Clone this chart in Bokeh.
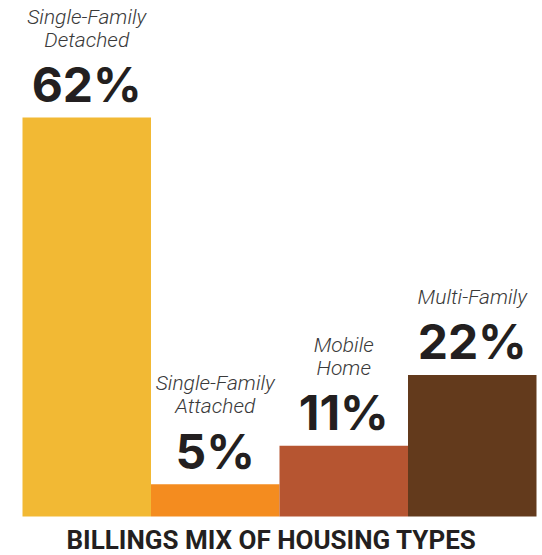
from bokeh.plotting import figure
from bokeh.models import ColumnDataSource, Range1d, Label
from bokeh.core.properties import value
from bokeh.embed import file_html
from bokeh.resources import INLINE

categories = ["Single-Family\nDetached", "Single-Family\nAttached", "Mobile\nHome", "Multi-Family"]
shares = [62, 5, 11, 22]
pct_labels = ["62%", "5%", "11%", "22%"]
colors = ["#F2B934", "#F48C1F", "#B65531", "#633A1C"]
title_text = "BILLINGS MIX OF HOUSING TYPES"

W, H = 542, 555
bar_px = 128.5
left_px, right_px = 22, 6
base_px = 39
unit_px = 6.435

xs = [i + 0.5 for i in range(len(shares))]
line1 = []
line2 = []
for c in categories:
    parts = c.split("\n")
    if len(parts) == 2:
        line1.append(parts[0]); line2.append(parts[1])
    else:
        line1.append(""); line2.append(parts[0])

src = ColumnDataSource(dict(x=xs, top=shares, color=colors, pct=pct_labels, l1=line1, l2=line2))

p = figure(width=W, height=H, output_backend="svg", toolbar_location=None,
           min_border=0, outline_line_color=None,
           x_range=Range1d(-left_px / bar_px, len(shares) + right_px / bar_px),
           y_range=Range1d(-base_px / unit_px, (H - base_px) / unit_px))
p.axis.visible = False
p.grid.visible = False
p.background_fill_color = "white"
p.border_fill_color = "white"

p.vbar(x="x", top="top", bottom=0, width=1.0, color="color", line_color=None, source=src)

p.text(x="x", y="top", text="pct", source=src, y_offset=-33,
       text_align="center", text_baseline="alphabetic",
       text_font=value("Inter"), text_font_style="bold", text_font_size="48px",
       text_color="#231F20")
p.text(x="x", y="top", text="l2", source=src, y_offset=-78,
       text_align="center", text_baseline="alphabetic",
       text_font=value("Roboto Light"), text_font_style="italic", text_font_size="21px",
       text_color="#3a3a3a")
p.text(x="x", y="top", text="l1", source=src, y_offset=-101,
       text_align="center", text_baseline="alphabetic",
       text_font=value("Roboto Light"), text_font_style="italic", text_font_size="21px",
       text_color="#3a3a3a")

p.add_layout(Label(x=W / 2, y=16, x_units="screen", y_units="screen", text=title_text,
                   text_align="center", text_baseline="alphabetic",
                   text_font="Roboto", text_font_style="bold", text_font_size="26px",
                   text_color="#231F20"))

open("out.html", "w").write(file_html(p, INLINE))
